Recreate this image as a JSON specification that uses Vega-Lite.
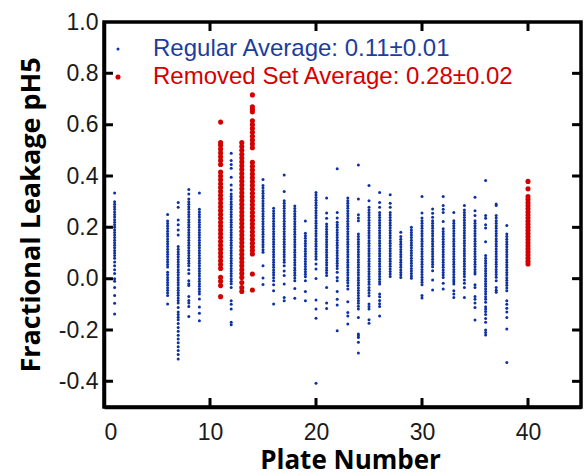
{
"$schema":"https://vega.github.io/schema/vega-lite/v6.json",
"autosize":"none",
"width":477,"height":385,
"padding":{"left":104,"top":22,"right":3,"bottom":69},
"background":"white",
"config":{"view":{"stroke":"#000","strokeWidth":3.5},
"axis":{"grid":false,"domainColor":"#000","domainWidth":3.5,"ticks":false,"tickSize":0,"labelFont":"Liberation Sans","labelFontSize":23,"labelColor":"#1a1a1a","titleFont":"Open Sans","titleFontWeight":"bold","titleFontSize":26,"titleColor":"#000"}},
"datasets":{
"xt":[{"t":10},{"t":20},{"t":30},{"t":40}],
"yt":[{"t":-0.4},{"t":-0.2},{"t":0},{"t":0.2},{"t":0.4},{"t":0.6},{"t":0.8}]
},
"data":{"values":[
{"p":1,"v":0.334,"s":"R"},{"p":1,"v":0.30,"s":"R"},{"p":1,"v":0.29,"s":"R"},{"p":1,"v":0.28,"s":"R"},{"p":1,"v":0.27,"s":"R"},{"p":1,"v":0.26,"s":"R"},{"p":1,"v":0.25,"s":"R"},{"p":1,"v":0.24,"s":"R"},{"p":1,"v":0.23,"s":"R"},{"p":1,"v":0.22,"s":"R"},{"p":1,"v":0.21,"s":"R"},{"p":1,"v":0.20,"s":"R"},{"p":1,"v":0.19,"s":"R"},{"p":1,"v":0.18,"s":"R"},{"p":1,"v":0.17,"s":"R"},{"p":1,"v":0.16,"s":"R"},{"p":1,"v":0.15,"s":"R"},{"p":1,"v":0.14,"s":"R"},{"p":1,"v":0.13,"s":"R"},{"p":1,"v":0.12,"s":"R"},{"p":1,"v":0.11,"s":"R"},{"p":1,"v":0.10,"s":"R"},{"p":1,"v":0.09,"s":"R"},{"p":1,"v":0.08,"s":"R"},{"p":1,"v":0.065,"s":"R"},{"p":1,"v":0.05,"s":"R"},{"p":1,"v":0.035,"s":"R"},{"p":1,"v":0.02,"s":"R"},{"p":1,"v":0.0,"s":"R"},{"p":1,"v":-0.01,"s":"R"},{"p":1,"v":-0.034,"s":"R"},{"p":1,"v":-0.066,"s":"R"},{"p":1,"v":-0.096,"s":"R"},{"p":1,"v":-0.138,"s":"R"},
{"p":6,"v":0.25,"s":"R"},{"p":6,"v":0.225,"s":"R"},{"p":6,"v":0.215,"s":"R"},{"p":6,"v":0.205,"s":"R"},{"p":6,"v":0.195,"s":"R"},{"p":6,"v":0.185,"s":"R"},{"p":6,"v":0.175,"s":"R"},{"p":6,"v":0.165,"s":"R"},{"p":6,"v":0.155,"s":"R"},{"p":6,"v":0.145,"s":"R"},{"p":6,"v":0.135,"s":"R"},{"p":6,"v":0.125,"s":"R"},{"p":6,"v":0.115,"s":"R"},{"p":6,"v":0.105,"s":"R"},{"p":6,"v":0.095,"s":"R"},{"p":6,"v":0.085,"s":"R"},{"p":6,"v":0.075,"s":"R"},{"p":6,"v":0.065,"s":"R"},{"p":6,"v":0.055,"s":"R"},{"p":6,"v":0.045,"s":"R"},{"p":6,"v":0.025,"s":"R"},{"p":6,"v":0.015,"s":"R"},{"p":6,"v":0.005,"s":"R"},{"p":6,"v":-0.005,"s":"R"},{"p":6,"v":-0.015,"s":"R"},{"p":6,"v":-0.025,"s":"R"},{"p":6,"v":-0.035,"s":"R"},{"p":6,"v":-0.045,"s":"R"},{"p":6,"v":-0.055,"s":"R"},{"p":6,"v":-0.066,"s":"R"},{"p":6,"v":-0.099,"s":"R"},
{"p":7,"v":0.297,"s":"R"},{"p":7,"v":0.278,"s":"R"},{"p":7,"v":0.229,"s":"R"},{"p":7,"v":0.21,"s":"R"},{"p":7,"v":0.19,"s":"R"},{"p":7,"v":0.17,"s":"R"},{"p":7,"v":0.125,"s":"R"},{"p":7,"v":0.115,"s":"R"},{"p":7,"v":0.105,"s":"R"},{"p":7,"v":0.095,"s":"R"},{"p":7,"v":0.085,"s":"R"},{"p":7,"v":0.075,"s":"R"},{"p":7,"v":0.065,"s":"R"},{"p":7,"v":0.055,"s":"R"},{"p":7,"v":0.045,"s":"R"},{"p":7,"v":0.035,"s":"R"},{"p":7,"v":0.025,"s":"R"},{"p":7,"v":0.015,"s":"R"},{"p":7,"v":0.005,"s":"R"},{"p":7,"v":-0.005,"s":"R"},{"p":7,"v":-0.015,"s":"R"},{"p":7,"v":-0.025,"s":"R"},{"p":7,"v":-0.035,"s":"R"},{"p":7,"v":-0.045,"s":"R"},{"p":7,"v":-0.055,"s":"R"},{"p":7,"v":-0.065,"s":"R"},{"p":7,"v":-0.075,"s":"R"},{"p":7,"v":-0.085,"s":"R"},{"p":7,"v":-0.095,"s":"R"},{"p":7,"v":-0.112,"s":"R"},{"p":7,"v":-0.13,"s":"R"},{"p":7,"v":-0.14,"s":"R"},{"p":7,"v":-0.15,"s":"R"},{"p":7,"v":-0.16,"s":"R"},{"p":7,"v":-0.175,"s":"R"},{"p":7,"v":-0.19,"s":"R"},{"p":7,"v":-0.205,"s":"R"},{"p":7,"v":-0.22,"s":"R"},{"p":7,"v":-0.235,"s":"R"},{"p":7,"v":-0.25,"s":"R"},{"p":7,"v":-0.265,"s":"R"},{"p":7,"v":-0.28,"s":"R"},{"p":7,"v":-0.295,"s":"R"},{"p":7,"v":-0.313,"s":"R"},
{"p":8,"v":0.347,"s":"R"},{"p":8,"v":0.33,"s":"R"},{"p":8,"v":0.31,"s":"R"},{"p":8,"v":0.30,"s":"R"},{"p":8,"v":0.29,"s":"R"},{"p":8,"v":0.28,"s":"R"},{"p":8,"v":0.27,"s":"R"},{"p":8,"v":0.26,"s":"R"},{"p":8,"v":0.25,"s":"R"},{"p":8,"v":0.24,"s":"R"},{"p":8,"v":0.23,"s":"R"},{"p":8,"v":0.22,"s":"R"},{"p":8,"v":0.21,"s":"R"},{"p":8,"v":0.20,"s":"R"},{"p":8,"v":0.19,"s":"R"},{"p":8,"v":0.18,"s":"R"},{"p":8,"v":0.17,"s":"R"},{"p":8,"v":0.16,"s":"R"},{"p":8,"v":0.15,"s":"R"},{"p":8,"v":0.14,"s":"R"},{"p":8,"v":0.13,"s":"R"},{"p":8,"v":0.12,"s":"R"},{"p":8,"v":0.11,"s":"R"},{"p":8,"v":0.10,"s":"R"},{"p":8,"v":0.09,"s":"R"},{"p":8,"v":0.08,"s":"R"},{"p":8,"v":0.07,"s":"R"},{"p":8,"v":0.06,"s":"R"},{"p":8,"v":0.05,"s":"R"},{"p":8,"v":0.035,"s":"R"},{"p":8,"v":0.02,"s":"R"},{"p":8,"v":-0.008,"s":"R"},{"p":8,"v":-0.02,"s":"R"},{"p":8,"v":-0.027,"s":"R"},{"p":8,"v":-0.069,"s":"R"},{"p":8,"v":-0.085,"s":"R"},{"p":8,"v":-0.095,"s":"R"},{"p":8,"v":-0.108,"s":"R"},{"p":8,"v":-0.147,"s":"R"},
{"p":9,"v":0.334,"s":"R"},{"p":9,"v":0.27,"s":"R"},{"p":9,"v":0.26,"s":"R"},{"p":9,"v":0.25,"s":"R"},{"p":9,"v":0.24,"s":"R"},{"p":9,"v":0.23,"s":"R"},{"p":9,"v":0.22,"s":"R"},{"p":9,"v":0.21,"s":"R"},{"p":9,"v":0.20,"s":"R"},{"p":9,"v":0.19,"s":"R"},{"p":9,"v":0.18,"s":"R"},{"p":9,"v":0.17,"s":"R"},{"p":9,"v":0.16,"s":"R"},{"p":9,"v":0.15,"s":"R"},{"p":9,"v":0.14,"s":"R"},{"p":9,"v":0.13,"s":"R"},{"p":9,"v":0.12,"s":"R"},{"p":9,"v":0.11,"s":"R"},{"p":9,"v":0.10,"s":"R"},{"p":9,"v":0.09,"s":"R"},{"p":9,"v":0.08,"s":"R"},{"p":9,"v":0.07,"s":"R"},{"p":9,"v":0.06,"s":"R"},{"p":9,"v":0.05,"s":"R"},{"p":9,"v":0.04,"s":"R"},{"p":9,"v":0.03,"s":"R"},{"p":9,"v":0.02,"s":"R"},{"p":9,"v":0.01,"s":"R"},{"p":9,"v":0.0,"s":"R"},{"p":9,"v":-0.01,"s":"R"},{"p":9,"v":-0.02,"s":"R"},{"p":9,"v":-0.03,"s":"R"},{"p":9,"v":-0.04,"s":"R"},{"p":9,"v":-0.05,"s":"R"},{"p":9,"v":-0.06,"s":"R"},{"p":9,"v":-0.079,"s":"R"},{"p":9,"v":-0.11,"s":"R"},{"p":9,"v":-0.135,"s":"R"},{"p":9,"v":-0.164,"s":"R"},
{"p":11,"v":0.61,"s":"X"},{"p":11,"v":0.53,"s":"X"},{"p":11,"v":0.52,"s":"X"},{"p":11,"v":0.505,"s":"X"},{"p":11,"v":0.49,"s":"X"},{"p":11,"v":0.475,"s":"X"},{"p":11,"v":0.46,"s":"X"},{"p":11,"v":0.445,"s":"X"},{"p":11,"v":0.415,"s":"X"},{"p":11,"v":0.4,"s":"X"},{"p":11,"v":0.385,"s":"X"},{"p":11,"v":0.37,"s":"X"},{"p":11,"v":0.355,"s":"X"},{"p":11,"v":0.34,"s":"X"},{"p":11,"v":0.325,"s":"X"},{"p":11,"v":0.31,"s":"X"},{"p":11,"v":0.295,"s":"X"},{"p":11,"v":0.28,"s":"X"},{"p":11,"v":0.265,"s":"X"},{"p":11,"v":0.25,"s":"X"},{"p":11,"v":0.235,"s":"X"},{"p":11,"v":0.22,"s":"X"},{"p":11,"v":0.205,"s":"X"},{"p":11,"v":0.19,"s":"X"},{"p":11,"v":0.175,"s":"X"},{"p":11,"v":0.16,"s":"X"},{"p":11,"v":0.145,"s":"X"},{"p":11,"v":0.13,"s":"X"},{"p":11,"v":0.115,"s":"X"},{"p":11,"v":0.1,"s":"X"},{"p":11,"v":0.085,"s":"X"},{"p":11,"v":0.07,"s":"X"},{"p":11,"v":0.055,"s":"X"},{"p":11,"v":0.04,"s":"X"},{"p":11,"v":0.005,"s":"X"},{"p":11,"v":-0.01,"s":"X"},{"p":11,"v":-0.027,"s":"X"},{"p":11,"v":-0.07,"s":"X"},
{"p":12,"v":0.489,"s":"R"},{"p":12,"v":0.46,"s":"R"},{"p":12,"v":0.445,"s":"R"},{"p":12,"v":0.43,"s":"R"},{"p":12,"v":0.395,"s":"R"},{"p":12,"v":0.365,"s":"R"},{"p":12,"v":0.345,"s":"R"},{"p":12,"v":0.33,"s":"R"},{"p":12,"v":0.32,"s":"R"},{"p":12,"v":0.31,"s":"R"},{"p":12,"v":0.30,"s":"R"},{"p":12,"v":0.29,"s":"R"},{"p":12,"v":0.28,"s":"R"},{"p":12,"v":0.27,"s":"R"},{"p":12,"v":0.26,"s":"R"},{"p":12,"v":0.25,"s":"R"},{"p":12,"v":0.24,"s":"R"},{"p":12,"v":0.23,"s":"R"},{"p":12,"v":0.22,"s":"R"},{"p":12,"v":0.21,"s":"R"},{"p":12,"v":0.20,"s":"R"},{"p":12,"v":0.19,"s":"R"},{"p":12,"v":0.18,"s":"R"},{"p":12,"v":0.17,"s":"R"},{"p":12,"v":0.16,"s":"R"},{"p":12,"v":0.15,"s":"R"},{"p":12,"v":0.14,"s":"R"},{"p":12,"v":0.13,"s":"R"},{"p":12,"v":0.12,"s":"R"},{"p":12,"v":0.11,"s":"R"},{"p":12,"v":0.10,"s":"R"},{"p":12,"v":0.09,"s":"R"},{"p":12,"v":0.08,"s":"R"},{"p":12,"v":0.07,"s":"R"},{"p":12,"v":0.06,"s":"R"},{"p":12,"v":0.05,"s":"R"},{"p":12,"v":0.04,"s":"R"},{"p":12,"v":0.03,"s":"R"},{"p":12,"v":0.02,"s":"R"},{"p":12,"v":0.01,"s":"R"},{"p":12,"v":0.0,"s":"R"},{"p":12,"v":-0.01,"s":"R"},{"p":12,"v":-0.02,"s":"R"},{"p":12,"v":-0.034,"s":"R"},{"p":12,"v":-0.086,"s":"R"},{"p":12,"v":-0.10,"s":"R"},{"p":12,"v":-0.118,"s":"R"},{"p":12,"v":-0.17,"s":"R"},{"p":12,"v":-0.18,"s":"R"},
{"p":13,"v":0.53,"s":"X"},{"p":13,"v":0.515,"s":"X"},{"p":13,"v":0.5,"s":"X"},{"p":13,"v":0.485,"s":"X"},{"p":13,"v":0.47,"s":"X"},{"p":13,"v":0.455,"s":"X"},{"p":13,"v":0.44,"s":"X"},{"p":13,"v":0.425,"s":"X"},{"p":13,"v":0.41,"s":"X"},{"p":13,"v":0.395,"s":"X"},{"p":13,"v":0.38,"s":"X"},{"p":13,"v":0.365,"s":"X"},{"p":13,"v":0.35,"s":"X"},{"p":13,"v":0.335,"s":"X"},{"p":13,"v":0.32,"s":"X"},{"p":13,"v":0.305,"s":"X"},{"p":13,"v":0.29,"s":"X"},{"p":13,"v":0.275,"s":"X"},{"p":13,"v":0.26,"s":"X"},{"p":13,"v":0.245,"s":"X"},{"p":13,"v":0.23,"s":"X"},{"p":13,"v":0.215,"s":"X"},{"p":13,"v":0.2,"s":"X"},{"p":13,"v":0.185,"s":"X"},{"p":13,"v":0.17,"s":"X"},{"p":13,"v":0.155,"s":"X"},{"p":13,"v":0.14,"s":"X"},{"p":13,"v":0.125,"s":"X"},{"p":13,"v":0.11,"s":"X"},{"p":13,"v":0.095,"s":"X"},{"p":13,"v":0.08,"s":"X"},{"p":13,"v":0.065,"s":"X"},{"p":13,"v":0.05,"s":"X"},{"p":13,"v":0.035,"s":"X"},{"p":13,"v":0.02,"s":"X"},{"p":13,"v":0.005,"s":"X"},{"p":13,"v":-0.015,"s":"X"},{"p":13,"v":-0.035,"s":"X"},{"p":13,"v":-0.05,"s":"X"},
{"p":14,"v":0.716,"s":"X"},{"p":14,"v":0.67,"s":"X"},{"p":14,"v":0.66,"s":"X"},{"p":14,"v":0.65,"s":"X"},{"p":14,"v":0.615,"s":"X"},{"p":14,"v":0.6,"s":"X"},{"p":14,"v":0.585,"s":"X"},{"p":14,"v":0.57,"s":"X"},{"p":14,"v":0.555,"s":"X"},{"p":14,"v":0.54,"s":"X"},{"p":14,"v":0.525,"s":"X"},{"p":14,"v":0.51,"s":"X"},{"p":14,"v":0.453,"s":"X"},{"p":14,"v":0.438,"s":"X"},{"p":14,"v":0.423,"s":"X"},{"p":14,"v":0.408,"s":"X"},{"p":14,"v":0.393,"s":"X"},{"p":14,"v":0.378,"s":"X"},{"p":14,"v":0.363,"s":"X"},{"p":14,"v":0.348,"s":"X"},{"p":14,"v":0.333,"s":"X"},{"p":14,"v":0.318,"s":"X"},{"p":14,"v":0.303,"s":"X"},{"p":14,"v":0.288,"s":"X"},{"p":14,"v":0.273,"s":"X"},{"p":14,"v":0.258,"s":"X"},{"p":14,"v":0.243,"s":"X"},{"p":14,"v":0.228,"s":"X"},{"p":14,"v":0.213,"s":"X"},{"p":14,"v":0.198,"s":"X"},{"p":14,"v":0.183,"s":"X"},{"p":14,"v":0.168,"s":"X"},{"p":14,"v":0.153,"s":"X"},{"p":14,"v":0.138,"s":"X"},{"p":14,"v":0.123,"s":"X"},{"p":14,"v":0.11,"s":"X"},{"p":14,"v":0.096,"s":"X"},{"p":14,"v":0.018,"s":"X"},{"p":14,"v":-0.044,"s":"X"},
{"p":15,"v":0.386,"s":"R"},{"p":15,"v":0.363,"s":"R"},{"p":15,"v":0.353,"s":"R"},{"p":15,"v":0.343,"s":"R"},{"p":15,"v":0.333,"s":"R"},{"p":15,"v":0.323,"s":"R"},{"p":15,"v":0.313,"s":"R"},{"p":15,"v":0.303,"s":"R"},{"p":15,"v":0.293,"s":"R"},{"p":15,"v":0.283,"s":"R"},{"p":15,"v":0.273,"s":"R"},{"p":15,"v":0.263,"s":"R"},{"p":15,"v":0.253,"s":"R"},{"p":15,"v":0.243,"s":"R"},{"p":15,"v":0.233,"s":"R"},{"p":15,"v":0.223,"s":"R"},{"p":15,"v":0.213,"s":"R"},{"p":15,"v":0.203,"s":"R"},{"p":15,"v":0.193,"s":"R"},{"p":15,"v":0.183,"s":"R"},{"p":15,"v":0.173,"s":"R"},{"p":15,"v":0.163,"s":"R"},{"p":15,"v":0.153,"s":"R"},{"p":15,"v":0.143,"s":"R"},{"p":15,"v":0.133,"s":"R"},{"p":15,"v":0.123,"s":"R"},{"p":15,"v":0.113,"s":"R"},{"p":15,"v":0.103,"s":"R"},{"p":15,"v":0.05,"s":"R"},{"p":15,"v":0.003,"s":"R"},{"p":15,"v":-0.023,"s":"R"},
{"p":16,"v":0.274,"s":"R"},{"p":16,"v":0.264,"s":"R"},{"p":16,"v":0.254,"s":"R"},{"p":16,"v":0.244,"s":"R"},{"p":16,"v":0.234,"s":"R"},{"p":16,"v":0.224,"s":"R"},{"p":16,"v":0.214,"s":"R"},{"p":16,"v":0.204,"s":"R"},{"p":16,"v":0.194,"s":"R"},{"p":16,"v":0.184,"s":"R"},{"p":16,"v":0.174,"s":"R"},{"p":16,"v":0.164,"s":"R"},{"p":16,"v":0.154,"s":"R"},{"p":16,"v":0.144,"s":"R"},{"p":16,"v":0.134,"s":"R"},{"p":16,"v":0.124,"s":"R"},{"p":16,"v":0.114,"s":"R"},{"p":16,"v":0.104,"s":"R"},{"p":16,"v":0.094,"s":"R"},{"p":16,"v":0.084,"s":"R"},{"p":16,"v":0.074,"s":"R"},{"p":16,"v":0.064,"s":"R"},{"p":16,"v":0.054,"s":"R"},{"p":16,"v":0.044,"s":"R"},{"p":16,"v":0.034,"s":"R"},{"p":16,"v":0.024,"s":"R"},{"p":16,"v":0.014,"s":"R"},{"p":16,"v":0.004,"s":"R"},{"p":16,"v":-0.008,"s":"R"},{"p":16,"v":-0.024,"s":"R"},{"p":16,"v":-0.047,"s":"R"},{"p":16,"v":-0.099,"s":"R"},
{"p":17,"v":0.404,"s":"R"},{"p":17,"v":0.34,"s":"R"},{"p":17,"v":0.304,"s":"R"},{"p":17,"v":0.294,"s":"R"},{"p":17,"v":0.284,"s":"R"},{"p":17,"v":0.274,"s":"R"},{"p":17,"v":0.264,"s":"R"},{"p":17,"v":0.254,"s":"R"},{"p":17,"v":0.244,"s":"R"},{"p":17,"v":0.234,"s":"R"},{"p":17,"v":0.224,"s":"R"},{"p":17,"v":0.214,"s":"R"},{"p":17,"v":0.204,"s":"R"},{"p":17,"v":0.194,"s":"R"},{"p":17,"v":0.184,"s":"R"},{"p":17,"v":0.174,"s":"R"},{"p":17,"v":0.164,"s":"R"},{"p":17,"v":0.154,"s":"R"},{"p":17,"v":0.144,"s":"R"},{"p":17,"v":0.134,"s":"R"},{"p":17,"v":0.124,"s":"R"},{"p":17,"v":0.114,"s":"R"},{"p":17,"v":0.104,"s":"R"},{"p":17,"v":0.094,"s":"R"},{"p":17,"v":0.084,"s":"R"},{"p":17,"v":0.074,"s":"R"},{"p":17,"v":0.064,"s":"R"},{"p":17,"v":0.05,"s":"R"},{"p":17,"v":0.03,"s":"R"},{"p":17,"v":0.012,"s":"R"},{"p":17,"v":-0.021,"s":"R"},{"p":17,"v":-0.073,"s":"R"},{"p":17,"v":-0.086,"s":"R"},
{"p":18,"v":0.283,"s":"R"},{"p":18,"v":0.273,"s":"R"},{"p":18,"v":0.263,"s":"R"},{"p":18,"v":0.253,"s":"R"},{"p":18,"v":0.243,"s":"R"},{"p":18,"v":0.233,"s":"R"},{"p":18,"v":0.223,"s":"R"},{"p":18,"v":0.213,"s":"R"},{"p":18,"v":0.203,"s":"R"},{"p":18,"v":0.193,"s":"R"},{"p":18,"v":0.183,"s":"R"},{"p":18,"v":0.173,"s":"R"},{"p":18,"v":0.163,"s":"R"},{"p":18,"v":0.153,"s":"R"},{"p":18,"v":0.143,"s":"R"},{"p":18,"v":0.133,"s":"R"},{"p":18,"v":0.123,"s":"R"},{"p":18,"v":0.113,"s":"R"},{"p":18,"v":0.103,"s":"R"},{"p":18,"v":0.093,"s":"R"},{"p":18,"v":0.083,"s":"R"},{"p":18,"v":0.073,"s":"R"},{"p":18,"v":0.063,"s":"R"},{"p":18,"v":0.053,"s":"R"},{"p":18,"v":0.043,"s":"R"},{"p":18,"v":0.033,"s":"R"},{"p":18,"v":0.023,"s":"R"},{"p":18,"v":0.013,"s":"R"},{"p":18,"v":0.003,"s":"R"},{"p":18,"v":-0.008,"s":"R"},{"p":18,"v":-0.038,"s":"R"},{"p":18,"v":-0.076,"s":"R"},
{"p":19,"v":0.225,"s":"R"},{"p":19,"v":0.177,"s":"R"},{"p":19,"v":0.167,"s":"R"},{"p":19,"v":0.157,"s":"R"},{"p":19,"v":0.147,"s":"R"},{"p":19,"v":0.137,"s":"R"},{"p":19,"v":0.127,"s":"R"},{"p":19,"v":0.117,"s":"R"},{"p":19,"v":0.107,"s":"R"},{"p":19,"v":0.097,"s":"R"},{"p":19,"v":0.087,"s":"R"},{"p":19,"v":0.077,"s":"R"},{"p":19,"v":0.067,"s":"R"},{"p":19,"v":0.057,"s":"R"},{"p":19,"v":0.047,"s":"R"},{"p":19,"v":0.037,"s":"R"},{"p":19,"v":0.027,"s":"R"},{"p":19,"v":0.017,"s":"R"},{"p":19,"v":0.007,"s":"R"},{"p":19,"v":-0.008,"s":"R"},{"p":19,"v":-0.05,"s":"R"},{"p":19,"v":-0.086,"s":"R"},
{"p":20,"v":0.336,"s":"R"},{"p":20,"v":0.326,"s":"R"},{"p":20,"v":0.316,"s":"R"},{"p":20,"v":0.306,"s":"R"},{"p":20,"v":0.296,"s":"R"},{"p":20,"v":0.286,"s":"R"},{"p":20,"v":0.276,"s":"R"},{"p":20,"v":0.266,"s":"R"},{"p":20,"v":0.256,"s":"R"},{"p":20,"v":0.246,"s":"R"},{"p":20,"v":0.236,"s":"R"},{"p":20,"v":0.226,"s":"R"},{"p":20,"v":0.216,"s":"R"},{"p":20,"v":0.206,"s":"R"},{"p":20,"v":0.196,"s":"R"},{"p":20,"v":0.186,"s":"R"},{"p":20,"v":0.176,"s":"R"},{"p":20,"v":0.166,"s":"R"},{"p":20,"v":0.156,"s":"R"},{"p":20,"v":0.146,"s":"R"},{"p":20,"v":0.136,"s":"R"},{"p":20,"v":0.126,"s":"R"},{"p":20,"v":0.116,"s":"R"},{"p":20,"v":0.106,"s":"R"},{"p":20,"v":0.096,"s":"R"},{"p":20,"v":0.086,"s":"R"},{"p":20,"v":0.076,"s":"R"},{"p":20,"v":0.057,"s":"R"},{"p":20,"v":0.038,"s":"R"},{"p":20,"v":0.001,"s":"R"},{"p":20,"v":-0.083,"s":"R"},{"p":20,"v":-0.118,"s":"R"},{"p":20,"v":-0.154,"s":"R"},{"p":20,"v":-0.407,"s":"R"},
{"p":21,"v":0.314,"s":"R"},{"p":21,"v":0.256,"s":"R"},{"p":21,"v":0.235,"s":"R"},{"p":21,"v":0.213,"s":"R"},{"p":21,"v":0.203,"s":"R"},{"p":21,"v":0.193,"s":"R"},{"p":21,"v":0.183,"s":"R"},{"p":21,"v":0.173,"s":"R"},{"p":21,"v":0.163,"s":"R"},{"p":21,"v":0.153,"s":"R"},{"p":21,"v":0.143,"s":"R"},{"p":21,"v":0.133,"s":"R"},{"p":21,"v":0.123,"s":"R"},{"p":21,"v":0.113,"s":"R"},{"p":21,"v":0.103,"s":"R"},{"p":21,"v":0.093,"s":"R"},{"p":21,"v":0.083,"s":"R"},{"p":21,"v":0.073,"s":"R"},{"p":21,"v":0.063,"s":"R"},{"p":21,"v":0.053,"s":"R"},{"p":21,"v":0.043,"s":"R"},{"p":21,"v":0.033,"s":"R"},{"p":21,"v":0.023,"s":"R"},{"p":21,"v":0.012,"s":"R"},{"p":21,"v":-0.034,"s":"R"},{"p":21,"v":-0.095,"s":"R"},{"p":21,"v":-0.116,"s":"R"},
{"p":22,"v":0.428,"s":"R"},{"p":22,"v":0.258,"s":"R"},{"p":22,"v":0.236,"s":"R"},{"p":22,"v":0.22,"s":"R"},{"p":22,"v":0.21,"s":"R"},{"p":22,"v":0.2,"s":"R"},{"p":22,"v":0.19,"s":"R"},{"p":22,"v":0.18,"s":"R"},{"p":22,"v":0.17,"s":"R"},{"p":22,"v":0.16,"s":"R"},{"p":22,"v":0.15,"s":"R"},{"p":22,"v":0.14,"s":"R"},{"p":22,"v":0.13,"s":"R"},{"p":22,"v":0.12,"s":"R"},{"p":22,"v":0.11,"s":"R"},{"p":22,"v":0.1,"s":"R"},{"p":22,"v":0.09,"s":"R"},{"p":22,"v":0.08,"s":"R"},{"p":22,"v":0.07,"s":"R"},{"p":22,"v":0.06,"s":"R"},{"p":22,"v":0.05,"s":"R"},{"p":22,"v":0.04,"s":"R"},{"p":22,"v":0.025,"s":"R"},{"p":22,"v":0.005,"s":"R"},{"p":22,"v":-0.008,"s":"R"},{"p":22,"v":-0.05,"s":"R"},{"p":22,"v":-0.08,"s":"R"},{"p":22,"v":-0.103,"s":"R"},{"p":22,"v":-0.203,"s":"R"},
{"p":23,"v":0.314,"s":"R"},{"p":23,"v":0.304,"s":"R"},{"p":23,"v":0.294,"s":"R"},{"p":23,"v":0.284,"s":"R"},{"p":23,"v":0.274,"s":"R"},{"p":23,"v":0.264,"s":"R"},{"p":23,"v":0.254,"s":"R"},{"p":23,"v":0.244,"s":"R"},{"p":23,"v":0.234,"s":"R"},{"p":23,"v":0.224,"s":"R"},{"p":23,"v":0.214,"s":"R"},{"p":23,"v":0.204,"s":"R"},{"p":23,"v":0.194,"s":"R"},{"p":23,"v":0.184,"s":"R"},{"p":23,"v":0.174,"s":"R"},{"p":23,"v":0.164,"s":"R"},{"p":23,"v":0.154,"s":"R"},{"p":23,"v":0.144,"s":"R"},{"p":23,"v":0.134,"s":"R"},{"p":23,"v":0.124,"s":"R"},{"p":23,"v":0.114,"s":"R"},{"p":23,"v":0.104,"s":"R"},{"p":23,"v":0.094,"s":"R"},{"p":23,"v":0.084,"s":"R"},{"p":23,"v":0.074,"s":"R"},{"p":23,"v":0.064,"s":"R"},{"p":23,"v":0.054,"s":"R"},{"p":23,"v":0.044,"s":"R"},{"p":23,"v":0.034,"s":"R"},{"p":23,"v":0.024,"s":"R"},{"p":23,"v":0.014,"s":"R"},{"p":23,"v":0.004,"s":"R"},{"p":23,"v":-0.006,"s":"R"},{"p":23,"v":-0.016,"s":"R"},{"p":23,"v":-0.028,"s":"R"},{"p":23,"v":-0.04,"s":"R"},{"p":23,"v":-0.09,"s":"R"},{"p":23,"v":-0.132,"s":"R"},{"p":23,"v":-0.145,"s":"R"},{"p":23,"v":-0.177,"s":"R"},
{"p":24,"v":0.443,"s":"R"},{"p":24,"v":0.31,"s":"R"},{"p":24,"v":0.249,"s":"R"},{"p":24,"v":0.236,"s":"R"},{"p":24,"v":0.226,"s":"R"},{"p":24,"v":0.174,"s":"R"},{"p":24,"v":0.164,"s":"R"},{"p":24,"v":0.154,"s":"R"},{"p":24,"v":0.144,"s":"R"},{"p":24,"v":0.134,"s":"R"},{"p":24,"v":0.124,"s":"R"},{"p":24,"v":0.114,"s":"R"},{"p":24,"v":0.104,"s":"R"},{"p":24,"v":0.094,"s":"R"},{"p":24,"v":0.084,"s":"R"},{"p":24,"v":0.074,"s":"R"},{"p":24,"v":0.064,"s":"R"},{"p":24,"v":0.054,"s":"R"},{"p":24,"v":0.044,"s":"R"},{"p":24,"v":0.034,"s":"R"},{"p":24,"v":0.024,"s":"R"},{"p":24,"v":0.014,"s":"R"},{"p":24,"v":0.004,"s":"R"},{"p":24,"v":-0.006,"s":"R"},{"p":24,"v":-0.016,"s":"R"},{"p":24,"v":-0.026,"s":"R"},{"p":24,"v":-0.036,"s":"R"},{"p":24,"v":-0.046,"s":"R"},{"p":24,"v":-0.056,"s":"R"},{"p":24,"v":-0.066,"s":"R"},{"p":24,"v":-0.076,"s":"R"},{"p":24,"v":-0.086,"s":"R"},{"p":24,"v":-0.096,"s":"R"},{"p":24,"v":-0.107,"s":"R"},{"p":24,"v":-0.118,"s":"R"},{"p":24,"v":-0.151,"s":"R"},{"p":24,"v":-0.216,"s":"R"},{"p":24,"v":-0.222,"s":"R"},{"p":24,"v":-0.229,"s":"R"},{"p":24,"v":-0.248,"s":"R"},{"p":24,"v":-0.29,"s":"R"},
{"p":25,"v":0.363,"s":"R"},{"p":25,"v":0.304,"s":"R"},{"p":25,"v":0.278,"s":"R"},{"p":25,"v":0.268,"s":"R"},{"p":25,"v":0.258,"s":"R"},{"p":25,"v":0.248,"s":"R"},{"p":25,"v":0.238,"s":"R"},{"p":25,"v":0.228,"s":"R"},{"p":25,"v":0.218,"s":"R"},{"p":25,"v":0.208,"s":"R"},{"p":25,"v":0.198,"s":"R"},{"p":25,"v":0.188,"s":"R"},{"p":25,"v":0.178,"s":"R"},{"p":25,"v":0.168,"s":"R"},{"p":25,"v":0.158,"s":"R"},{"p":25,"v":0.148,"s":"R"},{"p":25,"v":0.138,"s":"R"},{"p":25,"v":0.128,"s":"R"},{"p":25,"v":0.118,"s":"R"},{"p":25,"v":0.108,"s":"R"},{"p":25,"v":0.098,"s":"R"},{"p":25,"v":0.088,"s":"R"},{"p":25,"v":0.078,"s":"R"},{"p":25,"v":0.068,"s":"R"},{"p":25,"v":0.058,"s":"R"},{"p":25,"v":0.048,"s":"R"},{"p":25,"v":0.038,"s":"R"},{"p":25,"v":0.028,"s":"R"},{"p":25,"v":0.018,"s":"R"},{"p":25,"v":0.008,"s":"R"},{"p":25,"v":-0.002,"s":"R"},{"p":25,"v":-0.012,"s":"R"},{"p":25,"v":-0.022,"s":"R"},{"p":25,"v":-0.034,"s":"R"},{"p":25,"v":-0.045,"s":"R"},{"p":25,"v":-0.056,"s":"R"},{"p":25,"v":-0.067,"s":"R"},{"p":25,"v":-0.099,"s":"R"},{"p":25,"v":-0.108,"s":"R"},{"p":25,"v":-0.118,"s":"R"},{"p":25,"v":-0.16,"s":"R"},{"p":25,"v":-0.174,"s":"R"},
{"p":26,"v":0.336,"s":"R"},{"p":26,"v":0.297,"s":"R"},{"p":26,"v":0.278,"s":"R"},{"p":26,"v":0.258,"s":"R"},{"p":26,"v":0.248,"s":"R"},{"p":26,"v":0.238,"s":"R"},{"p":26,"v":0.228,"s":"R"},{"p":26,"v":0.218,"s":"R"},{"p":26,"v":0.208,"s":"R"},{"p":26,"v":0.198,"s":"R"},{"p":26,"v":0.188,"s":"R"},{"p":26,"v":0.178,"s":"R"},{"p":26,"v":0.168,"s":"R"},{"p":26,"v":0.158,"s":"R"},{"p":26,"v":0.148,"s":"R"},{"p":26,"v":0.138,"s":"R"},{"p":26,"v":0.128,"s":"R"},{"p":26,"v":0.118,"s":"R"},{"p":26,"v":0.108,"s":"R"},{"p":26,"v":0.098,"s":"R"},{"p":26,"v":0.088,"s":"R"},{"p":26,"v":0.078,"s":"R"},{"p":26,"v":0.068,"s":"R"},{"p":26,"v":0.058,"s":"R"},{"p":26,"v":0.048,"s":"R"},{"p":26,"v":0.038,"s":"R"},{"p":26,"v":0.028,"s":"R"},{"p":26,"v":0.018,"s":"R"},{"p":26,"v":0.008,"s":"R"},{"p":26,"v":-0.002,"s":"R"},{"p":26,"v":-0.012,"s":"R"},{"p":26,"v":-0.021,"s":"R"},{"p":26,"v":-0.06,"s":"R"},{"p":26,"v":-0.07,"s":"R"},{"p":26,"v":-0.085,"s":"R"},{"p":26,"v":-0.098,"s":"R"},{"p":26,"v":-0.108,"s":"R"},{"p":26,"v":-0.145,"s":"R"},
{"p":27,"v":0.327,"s":"R"},{"p":27,"v":0.294,"s":"R"},{"p":27,"v":0.278,"s":"R"},{"p":27,"v":0.258,"s":"R"},{"p":27,"v":0.248,"s":"R"},{"p":27,"v":0.238,"s":"R"},{"p":27,"v":0.228,"s":"R"},{"p":27,"v":0.218,"s":"R"},{"p":27,"v":0.208,"s":"R"},{"p":27,"v":0.198,"s":"R"},{"p":27,"v":0.188,"s":"R"},{"p":27,"v":0.178,"s":"R"},{"p":27,"v":0.168,"s":"R"},{"p":27,"v":0.158,"s":"R"},{"p":27,"v":0.148,"s":"R"},{"p":27,"v":0.138,"s":"R"},{"p":27,"v":0.128,"s":"R"},{"p":27,"v":0.118,"s":"R"},{"p":27,"v":0.108,"s":"R"},{"p":27,"v":0.098,"s":"R"},{"p":27,"v":0.088,"s":"R"},{"p":27,"v":0.078,"s":"R"},{"p":27,"v":0.068,"s":"R"},{"p":27,"v":0.058,"s":"R"},{"p":27,"v":0.048,"s":"R"},{"p":27,"v":0.038,"s":"R"},{"p":27,"v":0.028,"s":"R"},{"p":27,"v":0.018,"s":"R"},{"p":27,"v":0.008,"s":"R"},
{"p":28,"v":0.181,"s":"R"},{"p":28,"v":0.164,"s":"R"},{"p":28,"v":0.154,"s":"R"},{"p":28,"v":0.144,"s":"R"},{"p":28,"v":0.134,"s":"R"},{"p":28,"v":0.124,"s":"R"},{"p":28,"v":0.114,"s":"R"},{"p":28,"v":0.104,"s":"R"},{"p":28,"v":0.094,"s":"R"},{"p":28,"v":0.084,"s":"R"},{"p":28,"v":0.074,"s":"R"},{"p":28,"v":0.064,"s":"R"},{"p":28,"v":0.054,"s":"R"},{"p":28,"v":0.044,"s":"R"},{"p":28,"v":0.034,"s":"R"},{"p":28,"v":0.024,"s":"R"},{"p":28,"v":0.014,"s":"R"},{"p":28,"v":0.005,"s":"R"},
{"p":29,"v":0.2,"s":"R"},{"p":29,"v":0.19,"s":"R"},{"p":29,"v":0.18,"s":"R"},{"p":29,"v":0.17,"s":"R"},{"p":29,"v":0.16,"s":"R"},{"p":29,"v":0.15,"s":"R"},{"p":29,"v":0.14,"s":"R"},{"p":29,"v":0.13,"s":"R"},{"p":29,"v":0.12,"s":"R"},{"p":29,"v":0.11,"s":"R"},{"p":29,"v":0.1,"s":"R"},{"p":29,"v":0.09,"s":"R"},{"p":29,"v":0.08,"s":"R"},{"p":29,"v":0.07,"s":"R"},{"p":29,"v":0.06,"s":"R"},{"p":29,"v":0.05,"s":"R"},{"p":29,"v":0.04,"s":"R"},{"p":29,"v":0.03,"s":"R"},{"p":29,"v":0.02,"s":"R"},{"p":29,"v":0.01,"s":"R"},{"p":29,"v":0.002,"s":"R"},
{"p":30,"v":0.32,"s":"R"},{"p":30,"v":0.256,"s":"R"},{"p":30,"v":0.236,"s":"R"},{"p":30,"v":0.226,"s":"R"},{"p":30,"v":0.216,"s":"R"},{"p":30,"v":0.206,"s":"R"},{"p":30,"v":0.196,"s":"R"},{"p":30,"v":0.186,"s":"R"},{"p":30,"v":0.176,"s":"R"},{"p":30,"v":0.166,"s":"R"},{"p":30,"v":0.156,"s":"R"},{"p":30,"v":0.146,"s":"R"},{"p":30,"v":0.136,"s":"R"},{"p":30,"v":0.126,"s":"R"},{"p":30,"v":0.116,"s":"R"},{"p":30,"v":0.106,"s":"R"},{"p":30,"v":0.096,"s":"R"},{"p":30,"v":0.086,"s":"R"},{"p":30,"v":0.076,"s":"R"},{"p":30,"v":0.066,"s":"R"},{"p":30,"v":0.056,"s":"R"},{"p":30,"v":0.046,"s":"R"},{"p":30,"v":0.036,"s":"R"},{"p":30,"v":0.026,"s":"R"},{"p":30,"v":0.016,"s":"R"},{"p":30,"v":0.006,"s":"R"},{"p":30,"v":-0.004,"s":"R"},{"p":30,"v":-0.014,"s":"R"},{"p":30,"v":-0.024,"s":"R"},{"p":30,"v":-0.066,"s":"R"},{"p":30,"v":-0.075,"s":"R"},
{"p":31,"v":0.271,"s":"R"},{"p":31,"v":0.255,"s":"R"},{"p":31,"v":0.239,"s":"R"},{"p":31,"v":0.226,"s":"R"},{"p":31,"v":0.216,"s":"R"},{"p":31,"v":0.206,"s":"R"},{"p":31,"v":0.196,"s":"R"},{"p":31,"v":0.186,"s":"R"},{"p":31,"v":0.176,"s":"R"},{"p":31,"v":0.166,"s":"R"},{"p":31,"v":0.156,"s":"R"},{"p":31,"v":0.146,"s":"R"},{"p":31,"v":0.136,"s":"R"},{"p":31,"v":0.126,"s":"R"},{"p":31,"v":0.116,"s":"R"},{"p":31,"v":0.106,"s":"R"},{"p":31,"v":0.096,"s":"R"},{"p":31,"v":0.086,"s":"R"},{"p":31,"v":0.076,"s":"R"},{"p":31,"v":0.066,"s":"R"},{"p":31,"v":0.056,"s":"R"},{"p":31,"v":0.046,"s":"R"},{"p":31,"v":0.031,"s":"R"},{"p":31,"v":-0.005,"s":"R"},{"p":31,"v":-0.044,"s":"R"},
{"p":32,"v":0.32,"s":"R"},{"p":32,"v":0.285,"s":"R"},{"p":32,"v":0.27,"s":"R"},{"p":32,"v":0.258,"s":"R"},{"p":32,"v":0.223,"s":"R"},{"p":32,"v":0.194,"s":"R"},{"p":32,"v":0.184,"s":"R"},{"p":32,"v":0.174,"s":"R"},{"p":32,"v":0.164,"s":"R"},{"p":32,"v":0.154,"s":"R"},{"p":32,"v":0.144,"s":"R"},{"p":32,"v":0.134,"s":"R"},{"p":32,"v":0.124,"s":"R"},{"p":32,"v":0.114,"s":"R"},{"p":32,"v":0.104,"s":"R"},{"p":32,"v":0.094,"s":"R"},{"p":32,"v":0.084,"s":"R"},{"p":32,"v":0.074,"s":"R"},{"p":32,"v":0.064,"s":"R"},{"p":32,"v":0.054,"s":"R"},{"p":32,"v":0.044,"s":"R"},{"p":32,"v":0.034,"s":"R"},{"p":32,"v":0.024,"s":"R"},{"p":32,"v":0.014,"s":"R"},{"p":32,"v":0.005,"s":"R"},{"p":32,"v":-0.018,"s":"R"},{"p":32,"v":-0.04,"s":"R"},
{"p":33,"v":0.258,"s":"R"},{"p":33,"v":0.226,"s":"R"},{"p":33,"v":0.216,"s":"R"},{"p":33,"v":0.206,"s":"R"},{"p":33,"v":0.196,"s":"R"},{"p":33,"v":0.186,"s":"R"},{"p":33,"v":0.176,"s":"R"},{"p":33,"v":0.166,"s":"R"},{"p":33,"v":0.156,"s":"R"},{"p":33,"v":0.146,"s":"R"},{"p":33,"v":0.136,"s":"R"},{"p":33,"v":0.126,"s":"R"},{"p":33,"v":0.116,"s":"R"},{"p":33,"v":0.106,"s":"R"},{"p":33,"v":0.096,"s":"R"},{"p":33,"v":0.086,"s":"R"},{"p":33,"v":0.076,"s":"R"},{"p":33,"v":0.066,"s":"R"},{"p":33,"v":0.056,"s":"R"},{"p":33,"v":0.046,"s":"R"},{"p":33,"v":0.036,"s":"R"},{"p":33,"v":0.026,"s":"R"},{"p":33,"v":0.016,"s":"R"},{"p":33,"v":0.006,"s":"R"},{"p":33,"v":-0.004,"s":"R"},{"p":33,"v":-0.012,"s":"R"},{"p":33,"v":-0.021,"s":"R"},{"p":33,"v":-0.047,"s":"R"},{"p":33,"v":-0.06,"s":"R"},{"p":33,"v":-0.073,"s":"R"},
{"p":34,"v":0.285,"s":"R"},{"p":34,"v":0.268,"s":"R"},{"p":34,"v":0.258,"s":"R"},{"p":34,"v":0.248,"s":"R"},{"p":34,"v":0.238,"s":"R"},{"p":34,"v":0.228,"s":"R"},{"p":34,"v":0.218,"s":"R"},{"p":34,"v":0.208,"s":"R"},{"p":34,"v":0.198,"s":"R"},{"p":34,"v":0.188,"s":"R"},{"p":34,"v":0.178,"s":"R"},{"p":34,"v":0.168,"s":"R"},{"p":34,"v":0.158,"s":"R"},{"p":34,"v":0.148,"s":"R"},{"p":34,"v":0.138,"s":"R"},{"p":34,"v":0.128,"s":"R"},{"p":34,"v":0.118,"s":"R"},{"p":34,"v":0.108,"s":"R"},{"p":34,"v":0.098,"s":"R"},{"p":34,"v":0.088,"s":"R"},{"p":34,"v":0.078,"s":"R"},{"p":34,"v":0.068,"s":"R"},{"p":34,"v":0.058,"s":"R"},{"p":34,"v":0.048,"s":"R"},{"p":34,"v":0.038,"s":"R"},{"p":34,"v":0.028,"s":"R"},{"p":34,"v":0.018,"s":"R"},{"p":34,"v":0.008,"s":"R"},{"p":34,"v":-0.005,"s":"R"},{"p":34,"v":-0.018,"s":"R"},{"p":34,"v":-0.034,"s":"R"},{"p":34,"v":-0.073,"s":"R"},
{"p":35,"v":0.317,"s":"R"},{"p":35,"v":0.265,"s":"R"},{"p":35,"v":0.246,"s":"R"},{"p":35,"v":0.226,"s":"R"},{"p":35,"v":0.216,"s":"R"},{"p":35,"v":0.206,"s":"R"},{"p":35,"v":0.196,"s":"R"},{"p":35,"v":0.186,"s":"R"},{"p":35,"v":0.176,"s":"R"},{"p":35,"v":0.166,"s":"R"},{"p":35,"v":0.156,"s":"R"},{"p":35,"v":0.146,"s":"R"},{"p":35,"v":0.136,"s":"R"},{"p":35,"v":0.126,"s":"R"},{"p":35,"v":0.116,"s":"R"},{"p":35,"v":0.106,"s":"R"},{"p":35,"v":0.096,"s":"R"},{"p":35,"v":0.086,"s":"R"},{"p":35,"v":0.076,"s":"R"},{"p":35,"v":0.066,"s":"R"},{"p":35,"v":0.056,"s":"R"},{"p":35,"v":0.046,"s":"R"},{"p":35,"v":0.036,"s":"R"},{"p":35,"v":0.026,"s":"R"},{"p":35,"v":0.018,"s":"R"},{"p":35,"v":-0.024,"s":"R"},{"p":35,"v":-0.034,"s":"R"},{"p":35,"v":-0.069,"s":"R"},{"p":35,"v":-0.08,"s":"R"},{"p":35,"v":-0.095,"s":"R"},{"p":35,"v":-0.112,"s":"R"},{"p":35,"v":-0.161,"s":"R"},
{"p":36,"v":0.382,"s":"R"},{"p":36,"v":0.246,"s":"R"},{"p":36,"v":0.235,"s":"R"},{"p":36,"v":0.21,"s":"R"},{"p":36,"v":0.197,"s":"R"},{"p":36,"v":0.144,"s":"R"},{"p":36,"v":0.09,"s":"R"},{"p":36,"v":0.08,"s":"R"},{"p":36,"v":0.07,"s":"R"},{"p":36,"v":0.06,"s":"R"},{"p":36,"v":0.05,"s":"R"},{"p":36,"v":0.04,"s":"R"},{"p":36,"v":0.03,"s":"R"},{"p":36,"v":0.02,"s":"R"},{"p":36,"v":0.01,"s":"R"},{"p":36,"v":0.0,"s":"R"},{"p":36,"v":-0.01,"s":"R"},{"p":36,"v":-0.02,"s":"R"},{"p":36,"v":-0.03,"s":"R"},{"p":36,"v":-0.04,"s":"R"},{"p":36,"v":-0.05,"s":"R"},{"p":36,"v":-0.06,"s":"R"},{"p":36,"v":-0.07,"s":"R"},{"p":36,"v":-0.08,"s":"R"},{"p":36,"v":-0.092,"s":"R"},{"p":36,"v":-0.109,"s":"R"},{"p":36,"v":-0.118,"s":"R"},{"p":36,"v":-0.128,"s":"R"},{"p":36,"v":-0.14,"s":"R"},{"p":36,"v":-0.155,"s":"R"},{"p":36,"v":-0.17,"s":"R"},{"p":36,"v":-0.2,"s":"R"},{"p":36,"v":-0.21,"s":"R"},{"p":36,"v":-0.219,"s":"R"},
{"p":37,"v":0.291,"s":"R"},{"p":37,"v":0.285,"s":"R"},{"p":37,"v":0.246,"s":"R"},{"p":37,"v":0.236,"s":"R"},{"p":37,"v":0.226,"s":"R"},{"p":37,"v":0.216,"s":"R"},{"p":37,"v":0.206,"s":"R"},{"p":37,"v":0.196,"s":"R"},{"p":37,"v":0.186,"s":"R"},{"p":37,"v":0.176,"s":"R"},{"p":37,"v":0.166,"s":"R"},{"p":37,"v":0.156,"s":"R"},{"p":37,"v":0.146,"s":"R"},{"p":37,"v":0.136,"s":"R"},{"p":37,"v":0.126,"s":"R"},{"p":37,"v":0.116,"s":"R"},{"p":37,"v":0.106,"s":"R"},{"p":37,"v":0.096,"s":"R"},{"p":37,"v":0.086,"s":"R"},{"p":37,"v":0.076,"s":"R"},{"p":37,"v":0.066,"s":"R"},{"p":37,"v":0.056,"s":"R"},{"p":37,"v":0.046,"s":"R"},{"p":37,"v":0.036,"s":"R"},{"p":37,"v":0.026,"s":"R"},{"p":37,"v":0.016,"s":"R"},{"p":37,"v":0.006,"s":"R"},{"p":37,"v":-0.008,"s":"R"},{"p":37,"v":-0.034,"s":"R"},{"p":37,"v":-0.045,"s":"R"},{"p":37,"v":-0.053,"s":"R"},
{"p":38,"v":0.207,"s":"R"},{"p":38,"v":0.174,"s":"R"},{"p":38,"v":0.164,"s":"R"},{"p":38,"v":0.154,"s":"R"},{"p":38,"v":0.144,"s":"R"},{"p":38,"v":0.134,"s":"R"},{"p":38,"v":0.124,"s":"R"},{"p":38,"v":0.114,"s":"R"},{"p":38,"v":0.104,"s":"R"},{"p":38,"v":0.094,"s":"R"},{"p":38,"v":0.084,"s":"R"},{"p":38,"v":0.074,"s":"R"},{"p":38,"v":0.064,"s":"R"},{"p":38,"v":0.054,"s":"R"},{"p":38,"v":0.044,"s":"R"},{"p":38,"v":0.034,"s":"R"},{"p":38,"v":0.024,"s":"R"},{"p":38,"v":0.014,"s":"R"},{"p":38,"v":0.004,"s":"R"},{"p":38,"v":-0.006,"s":"R"},{"p":38,"v":-0.016,"s":"R"},{"p":38,"v":-0.026,"s":"R"},{"p":38,"v":-0.036,"s":"R"},{"p":38,"v":-0.047,"s":"R"},{"p":38,"v":-0.086,"s":"R"},{"p":38,"v":-0.1,"s":"R"},{"p":38,"v":-0.115,"s":"R"},{"p":38,"v":-0.13,"s":"R"},{"p":38,"v":-0.151,"s":"R"},{"p":38,"v":-0.196,"s":"R"},{"p":38,"v":-0.327,"s":"R"},
{"p":40,"v":0.379,"s":"X"},{"p":40,"v":0.35,"s":"X"},{"p":40,"v":0.32,"s":"X"},{"p":40,"v":0.308,"s":"X"},{"p":40,"v":0.296,"s":"X"},{"p":40,"v":0.284,"s":"X"},{"p":40,"v":0.272,"s":"X"},{"p":40,"v":0.26,"s":"X"},{"p":40,"v":0.248,"s":"X"},{"p":40,"v":0.236,"s":"X"},{"p":40,"v":0.224,"s":"X"},{"p":40,"v":0.212,"s":"X"},{"p":40,"v":0.2,"s":"X"},{"p":40,"v":0.188,"s":"X"},{"p":40,"v":0.176,"s":"X"},{"p":40,"v":0.164,"s":"X"},{"p":40,"v":0.152,"s":"X"},{"p":40,"v":0.14,"s":"X"},{"p":40,"v":0.128,"s":"X"},{"p":40,"v":0.116,"s":"X"},{"p":40,"v":0.104,"s":"X"},{"p":40,"v":0.092,"s":"X"},{"p":40,"v":0.08,"s":"X"},{"p":40,"v":0.068,"s":"X"},{"p":40,"v":0.057,"s":"X"}
]},
"layer":[
{"mark":{"type":"circle","opacity":1,"strokeWidth":0},
"encoding":{
"x":{"field":"p","type":"quantitative","scale":{"domain":[0,45],"nice":false,"zero":false},"axis":{"values":[0,10,20,30,40],"title":"Plate Number","labelPadding":14,"titlePadding":3,"titleX":246}},
"y":{"field":"v","type":"quantitative","scale":{"domain":[-0.5,1.0],"nice":false,"zero":false},"axis":{"values":[-0.4,-0.2,0,0.2,0.4,0.6,0.8,1.0],"labelExpr":"replace(format(datum.value,'.1f'),'\u2212','-')","title":"Fractional Leakage pH5","labelPadding":6,"titlePadding":13,"titleFontSize":27}},
"color":{"field":"s","type":"nominal","scale":{"domain":["R","X"],"range":["#0d31a3","#d20000"]},
"legend":{"orient":"none","legendX":2,"legendY":15,"title":null,"padding":0,"rowPadding":4,"labelOffset":23,"labelLimit":500,"labelFont":"Liberation Sans","labelFontSize":24,"labelColor":{"expr":"datum.value == 'X' ? '#d40000' : '#1d3d9e'"},"labelExpr":"datum.value == 'R' ? 'Regular Average: 0.11\u00b10.01' : 'Removed Set Average: 0.28\u00b10.02'","symbolStrokeWidth":0}},
"size":{"field":"s","type":"nominal","scale":{"domain":["R","X"],"range":[9,26]},"legend":null}
}},
{"data":{"name":"xt"},"mark":{"type":"tick","orient":"vertical","color":"#000","opacity":1,"thickness":3,"size":9},
"encoding":{"x":{"field":"t","type":"quantitative"},"y":{"datum":-0.4825}}},
{"data":{"name":"xt"},"mark":{"type":"tick","orient":"vertical","color":"#000","opacity":1,"thickness":3,"size":9},
"encoding":{"x":{"field":"t","type":"quantitative"},"y":{"datum":0.9825}}},
{"data":{"name":"yt"},"mark":{"type":"tick","orient":"horizontal","color":"#000","opacity":1,"thickness":3,"size":9},
"encoding":{"y":{"field":"t","type":"quantitative"},"x":{"datum":0.42}}},
{"data":{"name":"yt"},"mark":{"type":"tick","orient":"horizontal","color":"#000","opacity":1,"thickness":3,"size":9},
"encoding":{"y":{"field":"t","type":"quantitative"},"x":{"datum":44.58}}}
]
}
